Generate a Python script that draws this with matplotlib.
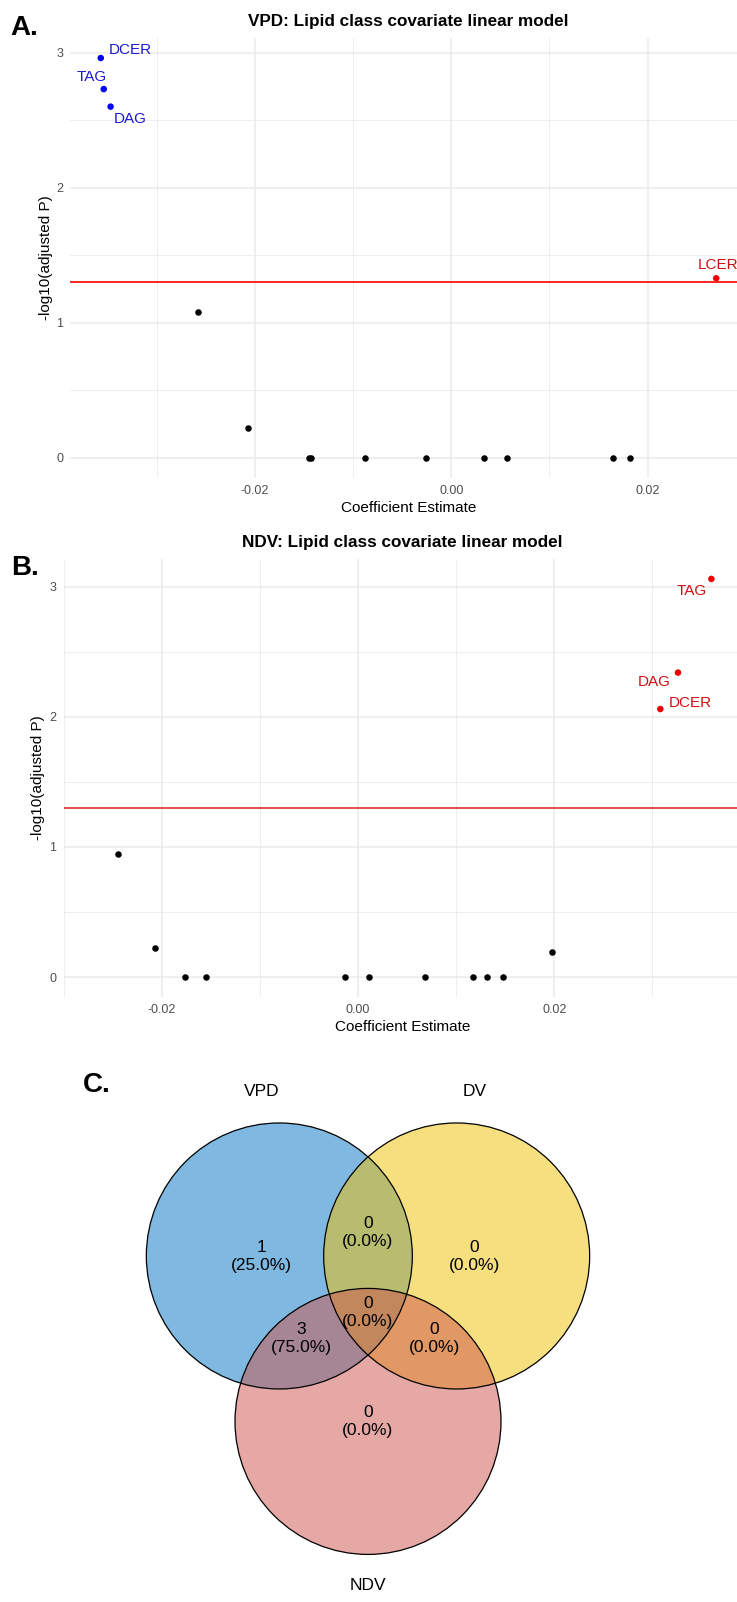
import numpy as np
import matplotlib
matplotlib.use("Agg")
import matplotlib.pyplot as plt
from matplotlib.patches import Circle

plt.rcParams['font.family'] = ['Liberation Sans', 'DejaVu Sans']

# panel A: VPD covariate model
vpd_sig_class = ["DCER", "TAG", "DAG", "LCER"]
vpd_sig_est = [-0.0357, -0.0354, -0.0347, 0.0270]
vpd_sig_logp = [2.96, 2.73, 2.60, 1.33]
vpd_ns_est = [-0.0258, -0.0207, -0.0145, -0.0143, -0.0088, -0.0026, 0.0033, 0.0057, 0.0165, 0.0182]
vpd_ns_logp = [1.08, 0.22, 0, 0, 0, 0, 0, 0, 0, 0]

# panel B: NDV covariate model
ndv_sig_class = ["TAG", "DAG", "DCER"]
ndv_sig_est = [0.0360, 0.0326, 0.0308]
ndv_sig_logp = [3.06, 2.34, 2.06]
ndv_ns_est = [-0.0244, -0.0207, -0.0176, -0.0155, -0.0013, 0.0011, 0.0068, 0.0117, 0.0131, 0.0148, 0.0198]
ndv_ns_logp = [0.946, 0.22, 0, 0, 0, 0, 0, 0, 0, 0, 0.19]

alpha_cut = 0.05

# panel C: venn counts
set_names = ["VPD", "DV", "NDV"]
region_names = ["A", "B", "C", "AB", "AC", "BC", "ABC"]
region_counts = [1, 0, 0, 0, 3, 0, 0]

# label nudges (points) for the repelled text
nudge_a = {"DCER": (21, 6), "TAG": (-9, 9), "DAG": (14, -9), "LCER": (1, 9.5)}
nudge_b = {"TAG": (-14.5, -9), "DAG": (-17, -7), "DCER": (21.5, 4.5)}

W, H = 737, 1602
fig = plt.figure(figsize=(W / 100, H / 100), dpi=100)


def px_axes(left, top, right, bottom):
    return fig.add_axes([left / W, 1 - bottom / H, (right - left) / W, (bottom - top) / H])


def volcano(ax, title, sig_class, sig_est, sig_logp, ns_est, ns_logp, nudge, line_col):
    all_x = np.array(sig_est + ns_est)
    all_y = np.array(sig_logp + ns_logp)
    xr = all_x.max() - all_x.min()
    yr = all_y.max() - all_y.min()
    ax.set_xlim(all_x.min() - 0.05 * xr, all_x.max() + 0.05 * xr)
    ax.set_ylim(all_y.min() - 0.05 * yr, all_y.max() + 0.05 * yr)

    ax.set_xticks([-0.02, 0.0, 0.02])
    ax.set_xticklabels(["-0.02", "0.00", "0.02"])
    ax.set_xticks([-0.03, -0.01, 0.01, 0.03], minor=True)
    ax.set_yticks([0, 1, 2, 3])
    ax.set_yticks([0.5, 1.5, 2.5], minor=True)
    ax.grid(which="major", color="#ebebeb", lw=1.1)
    ax.grid(which="minor", color="#ebebeb", lw=0.6)
    ax.set_axisbelow(True)
    for s in ax.spines.values():
        s.set_visible(False)
    ax.tick_params(which="both", length=0, labelsize=9, labelcolor="#4d4d4d", pad=5)

    ax.axhline(-np.log10(alpha_cut), color=line_col, lw=1.2, zorder=2)
    ax.scatter(ns_est, ns_logp, s=22, color="black", zorder=3, linewidths=0)
    cols = ["#0000ff" if e < 0 else "#ee0000" for e in sig_est]
    ax.scatter(sig_est, sig_logp, s=22, c=cols, zorder=3, linewidths=0)
    for name, x, y, c in zip(sig_class, sig_est, sig_logp, cols):
        txt_c = "#1a1acc" if c == "#0000ff" else "#cc1111"
        ax.annotate(name, (x, y), xytext=nudge[name], textcoords="offset points",
                    ha="center", va="center", fontsize=11, color=txt_c, annotation_clip=False)

    ax.set_xlabel("Coefficient Estimate", fontsize=11)
    ax.set_ylabel("-log10(adjusted P)", fontsize=11)
    ax.text(0.5, 1.037, title, transform=ax.transAxes, ha="center", va="center",
            fontsize=12.3, fontweight="bold")


ax_a = px_axes(70, 38, 747, 478)
volcano(ax_a, "VPD: Lipid class covariate linear model", vpd_sig_class, vpd_sig_est,
        vpd_sig_logp, vpd_ns_est, vpd_ns_logp, nudge_a, "red")
ax_a.xaxis.set_label_coords(0.5, -0.052)
ax_a.yaxis.set_label_coords(-0.025, 0.5)

ax_b = px_axes(63.5, 559, 741, 997)
volcano(ax_b, "NDV: Lipid class covariate linear model", ndv_sig_class, ndv_sig_est,
        ndv_sig_logp, ndv_ns_est, ndv_ns_logp, nudge_b, "#dd3333")
ax_b.xaxis.set_label_coords(0.5, -0.0525)
ax_b.yaxis.set_label_coords(-0.027, 0.5)

fig.text(24.5 / W, 1 - 28 / H, "A.", fontsize=20, fontweight="bold", ha="center", va="center")
fig.text(25 / W, 1 - 568 / H, "B.", fontsize=20, fontweight="bold", ha="center", va="center")
fig.text(97 / W, 1 - 1085 / H, "C.", fontsize=20, fontweight="bold", ha="center", va="center")

# venn diagram, ggvenn style geometry (unit radius circles)
ax_c = px_axes(0, 1060, W, H)
unit = 133.0
ox, oy = 368.0, 1338.7
ax_c.set_xlim(-ox / unit, (W - ox) / unit)
ax_c.set_ylim(-(H - oy) / unit, (oy - 1060) / unit)
ax_c.axis("off")

k = (np.sqrt(3) + 2) / 6
centers = [(-2 / 3, k), (2 / 3, k), (0, -k)]
fills = ["#0073C2", "#EFC000", "#CD534C"]
for (cx, cy), fc in zip(centers, fills):
    ax_c.add_patch(Circle((cx, cy), 1, facecolor=fc, alpha=0.5, edgecolor="none"))
for cx, cy in centers:
    ax_c.add_patch(Circle((cx, cy), 1, facecolor="none", edgecolor="black", lw=0.9))

name_pos = [(-0.8, 1.8, "bottom"), (0.8, 1.8, "bottom"), (0, -1.8, "top")]
for nm, (x, y, va) in zip(set_names, name_pos):
    ax_c.text(x, y, nm, ha="center", va=va, fontsize=12.5)

text_pos = {"A": (-0.8, 0.62), "B": (0.8, 0.62), "C": (0, -0.62), "AB": (0, 0.8),
            "AC": (-0.5, 0), "BC": (0.5, 0), "ABC": (0, 0.2)}
total = sum(region_counts)
for rn, cnt in zip(region_names, region_counts):
    x, y = text_pos[rn]
    ax_c.text(x, y, f"{cnt}\n({100 * cnt / total:.1f}%)", ha="center", va="center",
              fontsize=12.5, linespacing=1.25)

fig.savefig("out.png", dpi=100)
